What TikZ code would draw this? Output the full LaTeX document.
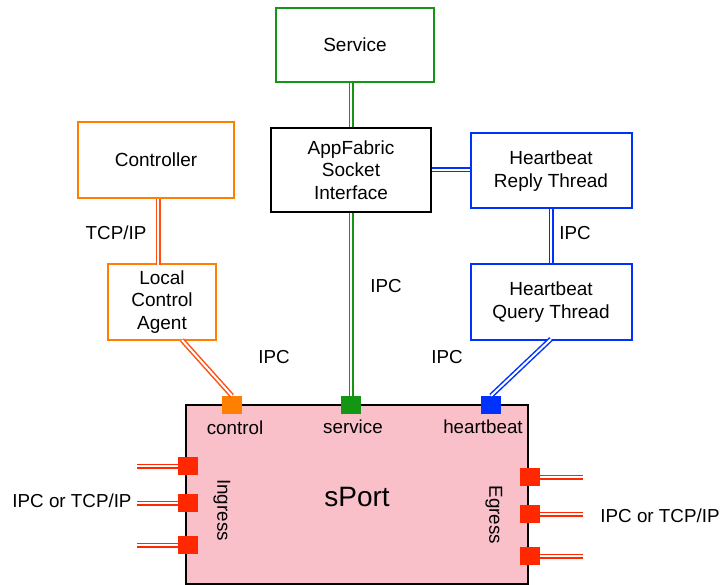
\documentclass[tikz,border=0pt]{standalone}
\usepackage{fontspec}
\setmainfont{Liberation Sans}
\usetikzlibrary{calc}
\definecolor{cgreen}{RGB}{20,150,20}
\definecolor{cblue}{RGB}{0,50,255}
\definecolor{corange}{RGB}{255,128,0}
\definecolor{cred}{RGB}{255,40,0}
\definecolor{cpink}{RGB}{250,192,202}
\definecolor{cored}{RGB}{255,80,20}
\tikzset{
  box/.style={draw, line width=2pt, fill=white, inner sep=2pt, align=center, font=\fontsize{19}{22.5}\selectfont},
  lbl/.style={font=\fontsize{18.8}{22}\selectfont, inner sep=0pt},
  dbl/.style={double=white, double distance=2pt, line width=1.5pt},
  port/.style={draw=none, minimum width=20pt, minimum height=18pt, inner sep=0pt},
}
\begin{document}
\begin{tikzpicture}[x=1pt,y=-1pt]
\useasboundingbox (0,0) rectangle (720,585);
% boxes
\node[box, draw=cgreen, minimum width=158pt, minimum height=74pt] (svc) at (355,45) {Service};
\node[box, draw=black, minimum width=160pt, minimum height=84pt] (afs) at (351,170) {AppFabric\\Socket\\Interface};
\node[box, draw=corange, minimum width=156pt, minimum height=76pt] (ctrl) at (156,160) {Controller};
\node[box, draw=corange, minimum width=108pt, minimum height=76pt] (lca) at (162,302) {Local\\Control\\Agent};
\node[box, draw=cblue, minimum width=161pt, minimum height=75pt] (hbr) at (551,171) {Heartbeat\\Reply Thread};
\node[box, draw=cblue, minimum width=161pt, minimum height=75pt] (hbq) at (551,302) {Heartbeat\\Query Thread};
% sPort
\draw[line width=2pt, fill=cpink] (186,405) rectangle (528,584);
\node[font=\fontsize{28}{32}\selectfont] (sport) at (357,497) {sPort};
\node[lbl, rotate=-90] (ing) at (222,510) {Ingress};
\node[lbl, rotate=-90] (egr) at (494,515) {Egress};
% top ports
\node[port, fill=corange] (pc) at (232,405) {};
\node[port, fill=cgreen] (ps) at (351,405) {};
\node[port, fill=cblue] (ph) at (491,405) {};
\node[lbl] at (235,428) {control};
\node[lbl] at (353,427) {service};
\node[lbl] at (483,427) {heartbeat};
% side ports
\node[port, fill=cred] (i1) at (188,466) {};
\node[port, fill=cred] (i2) at (188,503) {};
\node[port, fill=cred] (i3) at (188,545) {};
\node[port, fill=cred] (e1) at (530,477) {};
\node[port, fill=cred] (e2) at (530,514) {};
\node[port, fill=cred] (e3) at (530,556) {};
\coordinate (ia) at (137,466);
\coordinate (ib) at (137,503);
\coordinate (ic) at (137,545);
\coordinate (ea) at (583,477);
\coordinate (eb) at (583,514);
\coordinate (ec) at (583,556);
\draw[dbl, cred] (ia) -- (i1.west);
\draw[dbl, cred] (ib) -- (i2.west);
\draw[dbl, cred] (ic) -- (i3.west);
\draw[dbl, cred] (e1.east) -- (ea);
\draw[dbl, cred] (e2.east) -- (eb);
\draw[dbl, cred] (e3.east) -- (ec);
% connectors
\draw[dbl, cgreen] (svc.south -| afs.north) -- (afs.north);
\draw[dbl, cgreen] (afs.south) -- (ps.north);
\draw[dbl, cblue] (afs.east) -- (afs.east -| hbr.west);
\draw[dbl, cblue] (hbr.south) -- (hbq.north);
\coordinate (hq) at (551,339);
\draw[dbl, cblue] (hq) -- (ph.north);
\draw[dbl, cored] ($(ctrl.south)+(2,0)$) -- ($(ctrl.south)+(2,66)$);
\coordinate (la) at (182,340);
\draw[dbl, cored] (la) -- (pc.north);
% labels
\node[lbl] at (116,233) {TCP/IP};
\node[lbl] at (386,286) {IPC};
\node[lbl] at (274,357) {IPC};
\node[lbl] at (447,357) {IPC};
\node[lbl] at (575,233) {IPC};
\node[lbl] at (72,501) {IPC or TCP/IP};
\node[lbl] at (660,516) {IPC or TCP/IP};
\end{tikzpicture}
\end{document}
